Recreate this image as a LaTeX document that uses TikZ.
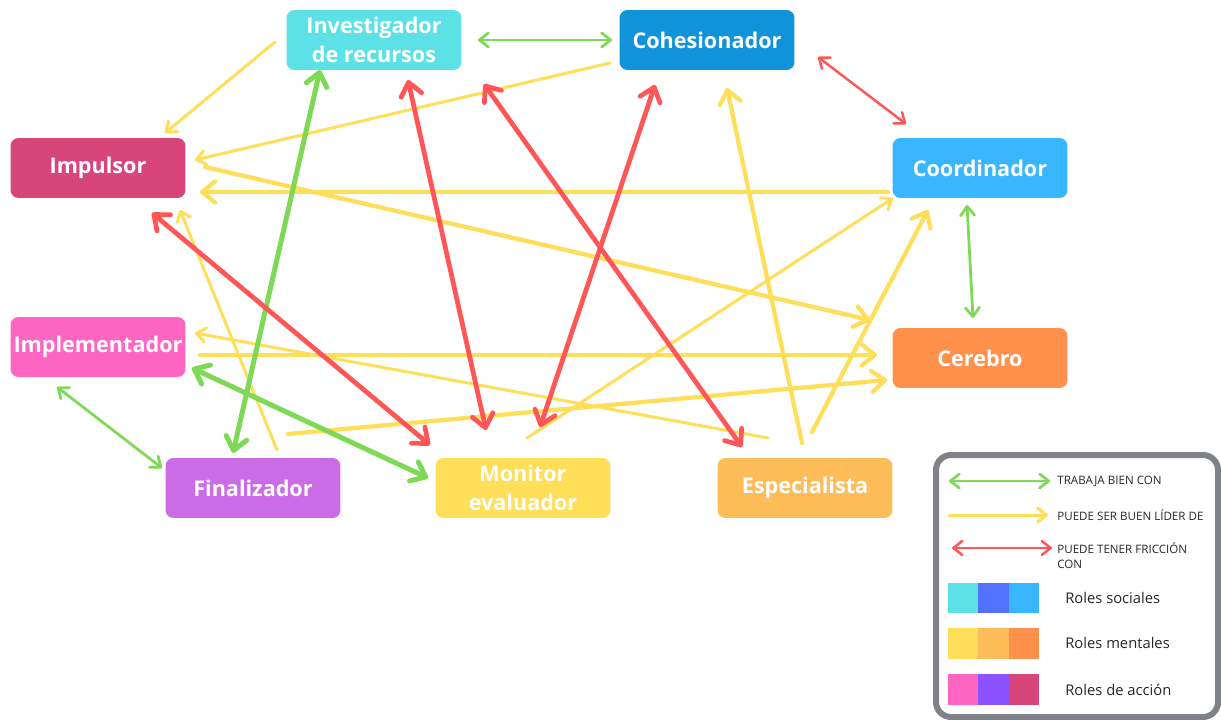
\documentclass[tikz,border=0pt]{standalone}
\usepackage{fontspec}
\setmainfont{Open Sans}
\usetikzlibrary{arrows.meta,calc}
\definecolor{cinv}{HTML}{5CE1E6}
\definecolor{ccoh}{HTML}{1193DA}
\definecolor{cimp}{HTML}{D7457A}
\definecolor{ccoo}{HTML}{38B6FF}
\definecolor{cimpl}{HTML}{FF66C4}
\definecolor{ccer}{HTML}{FF914D}
\definecolor{cfin}{HTML}{CB6CE6}
\definecolor{cmon}{HTML}{FFDE59}
\definecolor{cesp}{HTML}{FFBD59}
\definecolor{cblue}{HTML}{5271FF}
\definecolor{cpurp}{HTML}{8C52FF}
\definecolor{grn}{HTML}{7ED957}
\definecolor{ylw}{HTML}{FFDE59}
\definecolor{rd}{HTML}{FF5757}
\definecolor{lgray}{HTML}{7F8387}
\tikzset{
  role/.style={rounded corners=0.16cm, minimum width=3.5cm, minimum height=1.2cm,
    inner sep=0pt, text=white, align=center,
    font=\bfseries\fontsize{12.3}{16.5}\selectfont},
  thinhead/.tip={Straight Barb[length=0.18cm,width=0.28cm,round]},
  thickhead/.tip={Straight Barb[length=0.26cm,width=0.42cm,round]},
  gthin/.style={draw=grn, line width=0.055cm, line cap=round, thinhead-thinhead},
  gthick/.style={draw=grn, line width=0.1cm, line cap=round, thickhead-thickhead},
  ythin/.style={draw=ylw, line width=0.06cm, line cap=round, -thinhead},
  ythick/.style={draw=ylw, line width=0.085cm, line cap=round, -thickhead},
  rthin/.style={draw=rd, line width=0.05cm, line cap=round, thinhead-thinhead},
  rthick/.style={draw=rd, line width=0.095cm, line cap=round, thickhead-thickhead},
  legtext/.style={anchor=west, inner sep=0pt, text=black!85, font=\fontsize{6.6}{9}\selectfont, align=left},
  legrole/.style={anchor=west, inner sep=0pt, text=black!85, font=\fontsize{8.4}{10}\selectfont}
}
\begin{document}
\begin{tikzpicture}[x=0.02cm,y=-0.02cm]
\useasboundingbox (0,0) rectangle (1221,720);
% nodes
\node[role, fill=cinv] (inv) at (374,40) {Investigador\\de recursos};
\node[role, fill=ccoh] (coh) at (707,40) {Cohesionador};
\node[role, fill=cimp] (imp) at (98,168) {Impulsor};
\node[role, fill=ccoo] (coo) at (980,168) {Coordinador};
\node[role, fill=cimpl] (impl) at (98,347) {Implementador};
\node[role, fill=ccer] (cer) at (980,358) {Cerebro};
\node[role, fill=cfin] (fin) at (253,488) {Finalizador};
\node[role, fill=cmon] (mon) at (523,488) {Monitor\\evaluador};
\node[role, fill=cesp] (esp) at (805,488) {Especialista};

% yellow: can be a good leader of
\draw[ythin] ($(inv)+(-99,2)$) -- ($(imp)+(67,-35)$);
\draw[ythin] ($(coh)+(-97,23)$) -- ($(imp)+(97,-8)$);
\draw[ythick] ($(coo)+(-92,24)$) -- ($(imp)+(102,24)$);
\draw[ythick] ($(imp)+(107,-1)$) -- ($(cer)+(-110,-38)$);
\draw[ythin] ($(fin)+(24,-38)$) -- ($(imp)+(82,42)$);
\draw[ythin] ($(esp)+(-37,-50)$) -- ($(impl)+(97,-14)$);
\draw[ythick] ($(impl)+(102,8)$) -- ($(cer)+(-103,-3)$);
\draw[ythick] ($(fin)+(35,-54)$) -- ($(cer)+(-93,22)$);
\draw[ythin] ($(mon)+(4,-50)$) -- ($(coo)+(-87,30)$);
\draw[ythick] ($(esp)+(7,-56)$) -- ($(coo)+(-52,42)$);
\draw[ythick] ($(esp)+(-3,-45)$) -- ($(coh)+(20,48)$);

% green: works well with
\draw[gthin] ($(inv)+(104,0)$) -- ($(coh)+(-95,0)$);
\draw[gthin] ($(coo)+(-13,37)$) -- ($(cer)+(-7,-40)$);
\draw[gthin] ($(impl)+(-41,40)$) -- ($(fin)+(-91,-20)$);
\draw[gthick] ($(inv)+(-54,30)$) -- ($(fin)+(-20,-35)$);
\draw[gthick] ($(impl)+(94,21)$) -- ($(mon)+(-95,-10)$);

% red: friction
\draw[rthin] ($(coh)+(111,17)$) -- ($(coo)+(-74,-44)$);
\draw[rthick] ($(imp)+(54,45)$) -- ($(mon)+(-93,-43)$);
\draw[rthick] ($(inv)+(34,40)$) -- ($(mon)+(-37,-58)$);
\draw[rthick] ($(inv)+(110,44)$) -- ($(esp)+(-63,-41)$);
\draw[rthick] ($(coh)+(-52,45)$) -- ($(mon)+(17,-61)$);

% legend
\draw[draw=lgray, line width=0.12cm, rounded corners=0.3cm] (936,455) rectangle (1218,717);
\coordinate (lg1a) at (949,481); \coordinate (lg1b) at (1050,481);
\coordinate (lg2a) at (949,515); \coordinate (lg2b) at (1048,515);
\coordinate (lg3a) at (952,548); \coordinate (lg3b) at (1052,548);
\draw[gthin] (lg1a) -- (lg1b);
\draw[ythin] (lg2a) -- (lg2b);
\draw[rthin] (lg3a) -- (lg3b);
\node[legtext] (t1) at (1057,481) {TRABAJA BIEN CON};
\node[legtext] (t2) at (1057,515) {PUEDE SER BUEN LÍDER DE};
\node[legtext, anchor=north west] (t3) at (1057,542) {PUEDE TENER FRICCIÓN\\CON};
% swatches
\fill[cinv] (948,583) rectangle (978,613);
\fill[cblue] (978,583) rectangle (1009,613);
\fill[ccoo] (1009,583) rectangle (1039,613);
\fill[cmon] (948,628) rectangle (978,659);
\fill[cesp] (978,628) rectangle (1009,659);
\fill[ccer] (1009,628) rectangle (1039,659);
\fill[cimpl] (948,674) rectangle (978,705);
\fill[cpurp] (978,674) rectangle (1009,705);
\fill[cimp] (1009,674) rectangle (1039,705);
\node[legrole] (r1) at (1065,598) {Roles sociales};
\node[legrole] (r2) at (1065,643) {Roles mentales};
\node[legrole] (r3) at (1065,690) {Roles de acción};
\end{tikzpicture}
\end{document}
